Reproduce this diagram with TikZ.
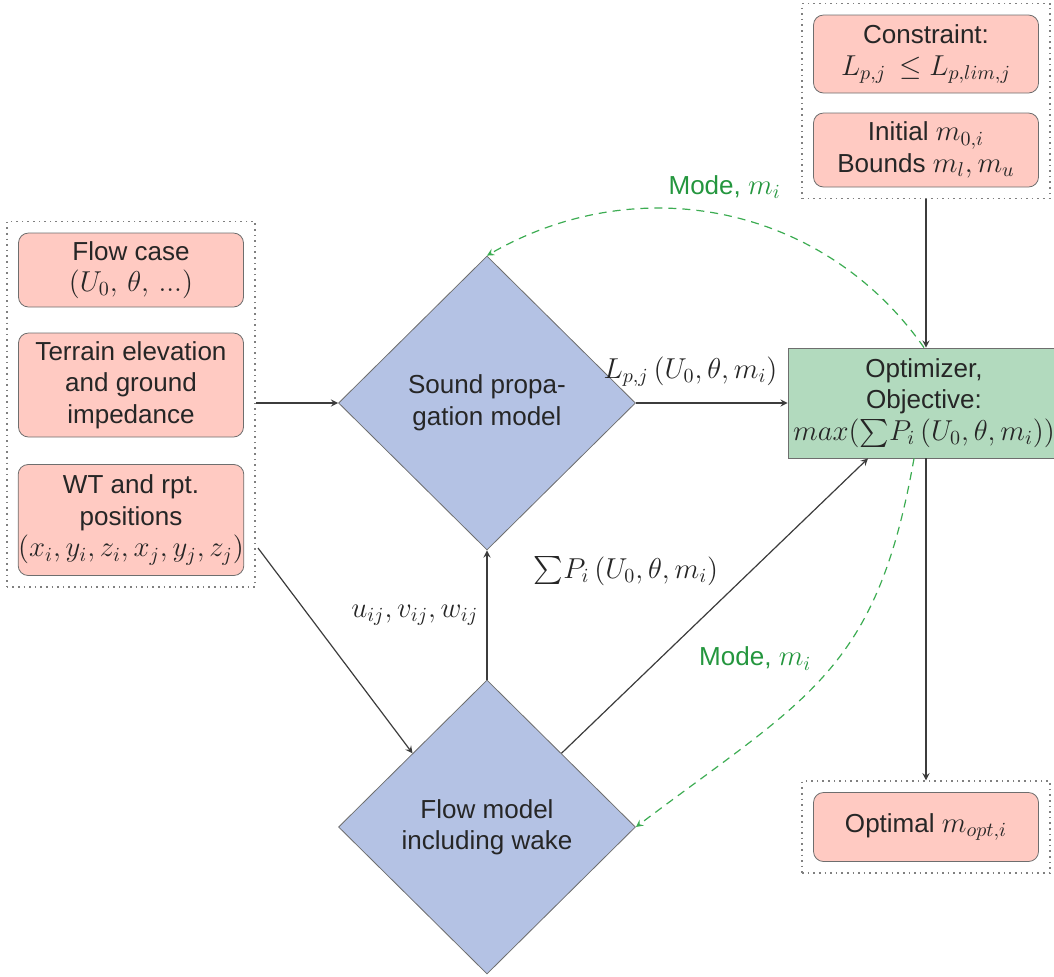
\documentclass[tikz,border=0pt]{standalone}
\usepackage[no-math]{fontspec}
\setmainfont{Liberation Sans}[Scale=0.93]
\usepackage{amsmath}
\usepackage{amssymb}
\usetikzlibrary{shapes.geometric,fit}

\definecolor{boxpink}{RGB}{255,202,194}
\definecolor{modelblue}{RGB}{180,194,228}
\definecolor{optgreen}{RGB}{178,218,190}
\definecolor{modegreen}{RGB}{36,150,62}
\definecolor{dashgreen}{RGB}{60,172,82}
\definecolor{linegray}{RGB}{60,60,60}
\definecolor{bordergray}{RGB}{110,110,110}

\tikzset{
  inbox/.style={draw=bordergray, fill=boxpink, rounded corners=5pt,
    minimum width=112.5pt, align=center, inner xsep=0pt, inner ysep=2pt},
  model/.style={diamond, draw=bordergray, fill=modelblue, aspect=1,
    minimum width=148.5pt, minimum height=147pt, inner sep=0pt, align=center},
  optbox/.style={draw=bordergray, fill=optgreen, minimum width=136pt,
    minimum height=55pt, align=center, inner sep=0pt},
  groupbox/.style={draw=gray, dotted, thick, inner sep=5.5pt},
  flow/.style={semithick, draw=linegray, -stealth},
  feedback/.style={semithick, draw=dashgreen, dash pattern=on 4pt off 3pt, -stealth},
  modelabel/.style={text=modegreen}
}

\begin{document}
\begin{tikzpicture}[x=0.5pt, y=-0.5pt, font=\fontsize{14}{15.75}\selectfont, text=black!85]
            \useasboundingbox (0,0) rectangle (1054,976);

            % inputs
            \node[inbox, minimum height=37pt] (case) at (131,270) {Flow case\\$(U_0,\,\theta,\,...)$};
            \node[inbox, minimum height=52pt] (terrain) at (131,385) {Terrain elevation\\and ground\\impedance};
            \node[inbox, minimum height=55.5pt] (pos) at (131,520) {WT and rpt.\\positions\\$(x_i,y_i,z_i,x_j,y_j,z_j)$};
            \node[groupbox, fit=(case)(terrain)(pos)] (inputs) {};

            % settings of the optimizer
            \node[inbox, minimum height=39pt] (constraint) at (926,54) {Constraint:\\$L_{p,j}\,\leq L_{p,lim,j}$};
            \node[inbox, minimum height=37pt] (initial) at (926,150) {Initial $m_{0,i}$\\Bounds $m_l,m_u$};
            \node[groupbox, fit=(constraint)(initial)] (settings) {};

            % models and optimizer
            \node[model] (sound) at (487,403) {Sound propa-\\gation model};
            \node[model] (wake) at (487,827) {Flow model\\including wake};
            \node[optbox] (opt) at (924,403) {Optimizer,\\Objective:\\$max(\sum\!P_i\left(U_0,\theta,m_i\right))$};

            \node[inbox, minimum height=34.5pt] (optimal) at (926,827) {Optimal $m_{opt,i}$};
            \node[groupbox, fit=(optimal)] (result) {};

            \coordinate (posout) at (258,548);

            % connectors
            \draw[flow] (inputs.east |- sound.west) -- (sound.west);
            \draw[flow] (sound.east) -- node[pos=0.36, above=5pt] {$L_{p,j}\left(U_0,\theta,m_i\right)$} (opt.west);
            \draw[flow] (settings.south) -- (settings.south |- opt.north);
            \draw[flow] (opt.south -| result.north) -- (result.north);
            \draw[flow] (posout) -- (wake.north west);
            \draw[flow] (wake.north) -- node[midway, left=1pt] {$u_{ij},v_{ij},w_{ij}$} (sound.south);
            \draw[flow] (wake.north east) -- node[pos=0.54, above left=1pt] {$\sum\!P_i\left(U_0,\theta,m_i\right)$} ([xshift=-28pt]opt.south);

            % feedback of the modes
            \draw[feedback] (opt.north) to[out=125, in=30] node[pos=0.5, above=5pt, modelabel] {Mode, $m_i$} (sound.north);
            \draw[feedback] ([xshift=-5pt]opt.south) to[out=-100, in=37, looseness=1.2] node[pos=0.45, left=10pt, modelabel] {Mode, $m_i$} (wake.east);
        \end{tikzpicture}
\end{document}
